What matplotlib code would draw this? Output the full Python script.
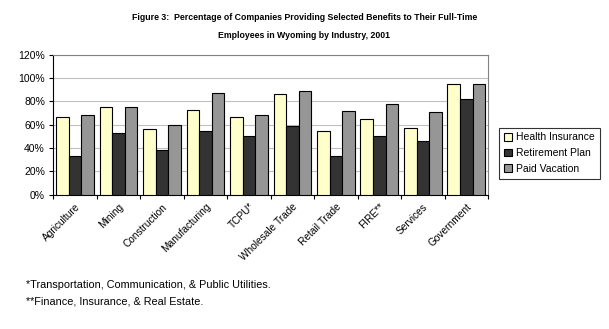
import numpy as np
import matplotlib
matplotlib.use("Agg")
import matplotlib.pyplot as plt
from matplotlib.ticker import PercentFormatter

# Share of companies offering each benefit, by industry (Wyoming, 2001)
industries = ["Agriculture", "Mining", "Construction", "Manufacturing", "TCPU*",
              "Wholesale Trade", "Retail Trade", "FIRE**", "Services", "Government"]
health_insurance = [67, 75.5, 56, 73, 67, 86, 55, 64.5, 57, 95]
retirement_plan = [33.5, 53, 38.5, 55, 50, 59, 33.5, 50.5, 46, 82]
paid_vacation = [68.5, 75.5, 59.5, 87.5, 68.5, 89, 72, 78, 71, 95]

series = [("Health Insurance", health_insurance, "#FFFFCC"),
          ("Retirement Plan", retirement_plan, "#333333"),
          ("Paid Vacation", paid_vacation, "#969696")]

plt.rcParams["font.family"] = ["Liberation Sans", "DejaVu Sans"]

fig = plt.figure(figsize=(6.09, 3.29), dpi=100)
ax = fig.add_axes([0.0875, 0.408, 0.714, 0.426])

x = np.arange(len(industries))
w = 0.29
for i, (name, vals, col) in enumerate(series):
    ax.bar(x + (i - 1) * w, vals, w, color=col, edgecolor="black", linewidth=0.8,
           label=name, zorder=3)

ax.set_xlim(-0.5, len(industries) - 0.5)
ax.set_ylim(0, 120)
ax.set_yticks(np.arange(0, 121, 20))
ax.yaxis.set_major_formatter(PercentFormatter(decimals=0))
ax.grid(axis="y", color="#c0c0c0", linewidth=0.8, zorder=0)

# category boundary ticks, labels centred under each group
ax.set_xticks(np.arange(-0.5, len(industries), 1))
ax.set_xticklabels([])
ax.set_xticks(x, minor=True)
ax.set_xticklabels(industries, minor=True, rotation=45, ha="right",
                   rotation_mode="anchor", fontsize=7.3)
ax.tick_params(axis="x", which="minor", length=0, pad=5)
ax.tick_params(axis="x", which="major", length=3, width=0.8, direction="out")
ax.tick_params(axis="y", length=3, width=0.8, labelsize=7.5, pad=3)

ax.spines["left"].set_color("black")
ax.spines["bottom"].set_color("black")
ax.spines["top"].set_color("#808080")
ax.spines["right"].set_color("#808080")
for s in ax.spines.values():
    s.set_linewidth(0.8)

leg = fig.legend(loc="upper left", bbox_to_anchor=(499 / 609, 1 - 127.7 / 329),
                 fontsize=7.5, frameon=True, fancybox=False, edgecolor="black",
                 handlelength=0.8, handleheight=0.8, handletextpad=0.4,
                 labelspacing=0.55, borderpad=0.45, borderaxespad=0)
leg.get_frame().set_linewidth(0.8)

fig.text(0.5, 1 - 18 / 329,
         "Figure 3:  Percentage of Companies Providing Selected Benefits to Their Full-Time",
         ha="center", va="center", fontsize=6.3, fontweight="bold")
fig.text(0.5, 1 - 36 / 329, "Employees in Wyoming by Industry, 2001",
         ha="center", va="center", fontsize=6.3, fontweight="bold")

fig.text(26 / 609, 1 - 285 / 329,
         "*Transportation, Communication, & Public Utilities.",
         ha="left", va="center", fontsize=7.8)
fig.text(26 / 609, 1 - 302 / 329, "**Finance, Insurance, & Real Estate.",
         ha="left", va="center", fontsize=7.8)

fig.savefig("out.png", dpi=100, facecolor="white")
